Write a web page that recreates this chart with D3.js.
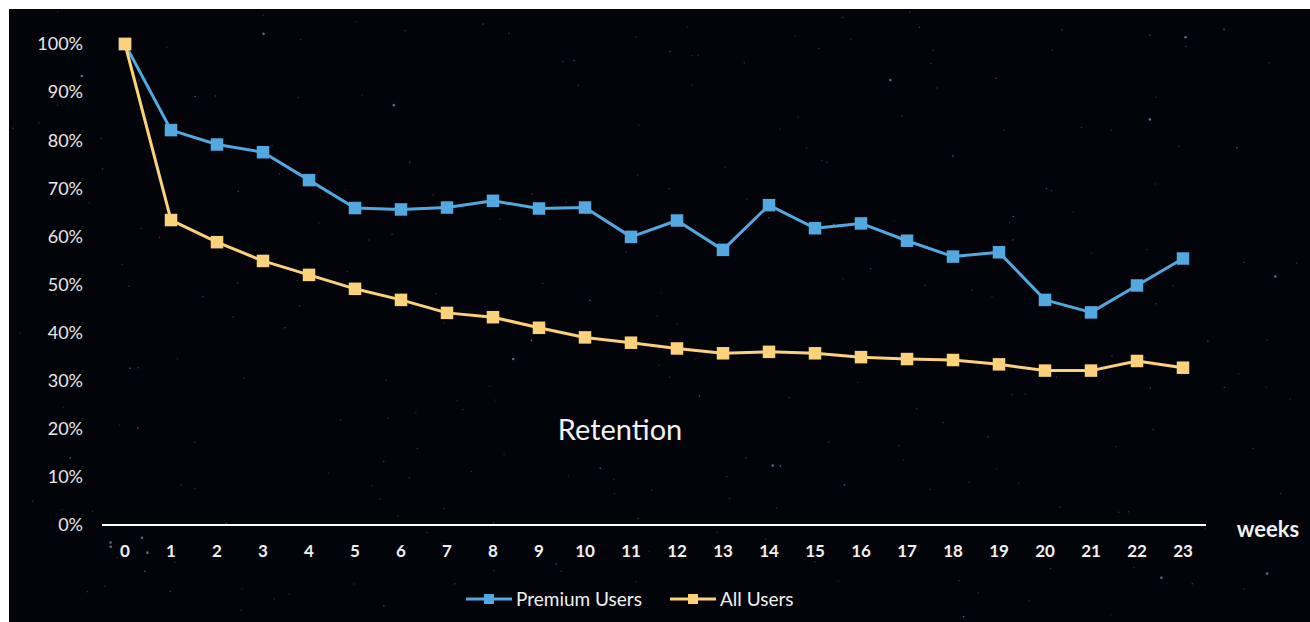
<!DOCTYPE html>
<html>
<head>
<meta charset="utf-8">
<script src="https://cdn.jsdelivr.net/npm/d3@7"></script>
<style>
  html, body { margin: 0; padding: 0; background: #ffffff; }
  svg { display: block; }
</style>
</head>
<body>
<svg id="chart" width="1310" height="622"></svg>
<script>
// Weekly retention by cohort
const weeks = d3.range(0, 24);
const premiumUsers = [100, 82.1, 79.1, 77.5, 71.7, 65.9, 65.6, 66.0, 67.4, 65.8, 66.0, 59.9,
                      63.3, 57.2, 66.5, 61.7, 62.7, 59.1, 55.8, 56.7, 46.8, 44.2, 49.8, 55.4];
const allUsers = [100, 63.4, 58.8, 54.9, 52.0, 49.1, 46.8, 44.1, 43.2, 41.0, 39.0, 37.9,
                  36.7, 35.7, 36.0, 35.7, 34.9, 34.5, 34.3, 33.4, 32.1, 32.1, 34.1, 32.7];
const yTicks = [0, 10, 20, 30, 40, 50, 60, 70, 80, 90, 100];
const seriesNames = ["Premium Users", "All Users"];
const seriesColors = ["#52a8df", "#fbd27c"];

const W = 1310, H = 622;
const svg = d3.select("#chart");
const font = "Lato, 'Open Sans', sans-serif";

// Night-sky backdrop
svg.append("rect").attr("x", 9).attr("y", 9).attr("width", W - 9).attr("height", H - 9)
  .attr("fill", "#03040a");

// Faint stars from a small seeded generator (decoration only)
let seed = 20231;
function rnd() { seed = (seed * 16807) % 2147483647; return (seed - 1) / 2147483646; }
const stars = svg.append("g");
for (let i = 0; i < 260; i++) {
  const sx = 10 + rnd() * (W - 12), sy = 10 + rnd() * (H - 12);
  const b = rnd();
  stars.append("circle").attr("cx", sx).attr("cy", sy)
    .attr("r", b > 0.93 ? 1.3 : 0.8)
    .attr("fill", b > 0.85 ? "#8a93c8" : "#5a6080")
    .attr("opacity", 0.3 + b * 0.4);
}

const x = d3.scaleLinear().domain([0, 23]).range([125, 1183]);
const y = d3.scaleLinear().domain([0, 100]).range([525, 44]);

// Y axis labels (no axis line)
svg.append("g").selectAll("text").data(yTicks).join("text")
  .attr("x", 83).attr("y", d => y(d)).attr("dy", "0.35em")
  .attr("text-anchor", "end").attr("fill", "#e8e8e8")
  .attr("font-family", font).attr("font-size", 18)
  .text(d => d + "%");

// X baseline
svg.append("line").attr("x1", 102).attr("x2", 1206).attr("y1", y(0)).attr("y2", y(0))
  .attr("stroke", "#ffffff").attr("stroke-width", 2.2);

// X labels
svg.append("g").selectAll("text").data(weeks).join("text")
  .attr("x", d => x(d)).attr("y", 551).attr("dy", "0.35em")
  .attr("text-anchor", "middle").attr("fill", "#f0f0f0")
  .attr("font-family", font).attr("font-size", 17).attr("font-weight", 700)
  .text(d => d);

svg.append("text").attr("x", 1268).attr("y", 529).attr("dy", "0.35em")
  .attr("text-anchor", "middle").attr("fill", "#f0f0f0")
  .attr("font-family", font).attr("font-size", 22).attr("font-weight", 700)
  .text("weeks");

svg.append("text").attr("x", 620).attr("y", 430).attr("dy", "0.35em")
  .attr("text-anchor", "middle").attr("fill", "#f2f2f2")
  .attr("font-family", font).attr("font-size", 29)
  .text("Retention");

const line = d3.line().x((d, i) => x(weeks[i])).y(d => y(d));
const ms = 12.5;

// Draw Premium first, All Users on top
[[premiumUsers, 0], [allUsers, 1]].forEach(([vals, k]) => {
  const g = svg.append("g");
  g.append("path").datum(vals).attr("d", line)
    .attr("fill", "none").attr("stroke", seriesColors[k]).attr("stroke-width", 3)
    .attr("stroke-linejoin", "round");
  g.selectAll("rect").data(vals).join("rect")
    .attr("x", (d, i) => x(weeks[i]) - ms / 2).attr("y", d => y(d) - ms / 2)
    .attr("width", ms).attr("height", ms).attr("fill", seriesColors[k]);
});

// Legend
const legendX = [466, 670];
seriesNames.forEach((name, k) => {
  const g = svg.append("g").attr("transform", `translate(${legendX[k]},599)`);
  g.append("line").attr("x1", 0).attr("x2", 46).attr("y1", 0).attr("y2", 0)
    .attr("stroke", seriesColors[k]).attr("stroke-width", 3);
  g.append("rect").attr("x", 23 - 5).attr("y", -5).attr("width", 10).attr("height", 10)
    .attr("fill", seriesColors[k]);
  g.append("text").attr("x", 50).attr("y", 0).attr("dy", "0.35em")
    .attr("fill", "#f0f0f0").attr("font-family", font).attr("font-size", 19)
    .text(name);
});
</script>
</body>
</html>
